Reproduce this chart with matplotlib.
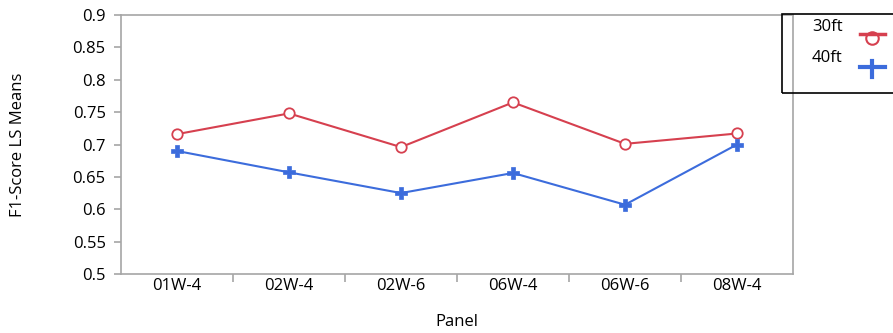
import matplotlib.pyplot as plt
from matplotlib.patches import Rectangle
from matplotlib.lines import Line2D
import numpy as np

plt.rcParams['font.family'] = ['Open Sans', 'DejaVu Sans']

panels = ["01W-4", "02W-4", "02W-6", "06W-4", "06W-6", "08W-4"]
f1_30ft = [0.716, 0.748, 0.696, 0.765, 0.701, 0.717]
f1_40ft = [0.690, 0.657, 0.625, 0.656, 0.607, 0.700]
yticks = [0.5, 0.55, 0.6, 0.65, 0.7, 0.75, 0.8, 0.85, 0.9]
series = ["30ft", "40ft"]

red = '#d6404f'
blue = '#3c6cdc'
grey = '#a6a6a6'
fs = 12

W, H = 893, 333
fig = plt.figure(figsize=(W / 100, H / 100), dpi=100)
ax = fig.add_axes([121 / W, 1 - 274 / H, (793 - 121) / W, (274 - 15) / H])

x = np.arange(len(panels))
ax.plot(x, f1_30ft, color=red, lw=1.5, marker='o', ms=7.5,
        mfc='white', mec=red, mew=1.3)
ax.plot(x, f1_40ft, color=blue, lw=1.5, marker='P', ms=8.5,
        mfc=blue, mec=blue, mew=0.5)

ax.set_xlim(-0.5, len(panels) - 0.5)
ax.set_ylim(0.5, 0.9)
ax.set_yticks(yticks)
ax.set_yticklabels([f"{v:g}" for v in yticks])
ax.set_xticks(x)
ax.set_xticklabels(panels)
ax.set_xticks(np.arange(0.5, len(panels) - 1, 1), minor=True)
ax.tick_params(axis='x', which='major', length=0, pad=3, labelsize=fs)
ax.tick_params(axis='x', which='minor', length=6, color=grey, width=1.2)
ax.tick_params(axis='y', length=5, color=grey, width=1.2, labelsize=fs, pad=6)
for s in ax.spines.values():
    s.set_color(grey)
    s.set_linewidth(1.2)

ax.set_ylabel("F1-Score LS Means", fontsize=fs)
ax.yaxis.set_label_coords(-(121 - 18) / (793 - 121), 0.5)
ax.set_xlabel("Panel", fontsize=fs)
ax.xaxis.set_label_coords(0.5, -(322 - 274) / (274 - 15))
ax.xaxis.label.set_va('center')
ax.yaxis.label.set_va('center')

# legend box (drawn by hand, JMP style)
fig.patches.append(Rectangle((782 / W, 1 - 93 / H), 0.2, 79 / H,
                             transform=fig.transFigure, fill=False,
                             edgecolor='black', lw=1.2))
fy = lambda py: 1 - py / H
fig.text(812 / W, fy(27), series[0], fontsize=fs, va='center', ha='left')
fig.text(812 / W, fy(58), series[1], fontsize=fs, va='center', ha='left')
fig.lines.append(Line2D([860 / W, 885 / W], [fy(34), fy(34)], color=red, lw=2.5,
                        transform=fig.transFigure))
fig.lines.append(Line2D([872 / W], [fy(38)], color=red, marker='o', ms=9,
                        mfc='none', mec=red, mew=1.5, transform=fig.transFigure))
fig.lines.append(Line2D([860 / W, 885 / W], [fy(67), fy(67)], color=blue, lw=3,
                        transform=fig.transFigure))
fig.lines.append(Line2D([872 / W, 872 / W], [fy(61), fy(77)], color=blue, lw=3,
                        transform=fig.transFigure))

fig.savefig('out.png', dpi=100)
